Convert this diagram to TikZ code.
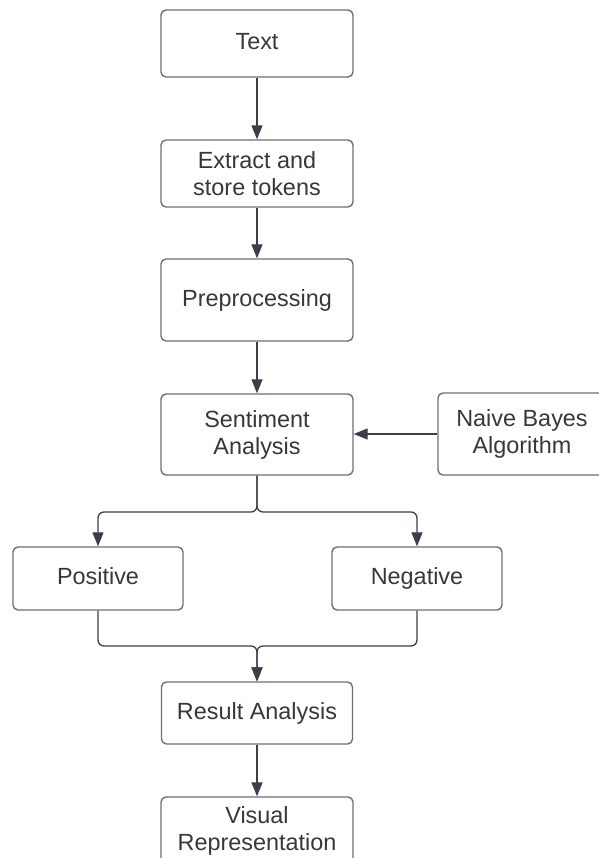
\documentclass[tikz,border=0pt]{standalone}
\usepackage{fontspec}
\setmainfont{Liberation Sans}
\usetikzlibrary{arrows.meta}
\definecolor{boxline}{HTML}{707070}
\definecolor{conn}{HTML}{3B3F4A}
\definecolor{txt}{HTML}{383838}
\begin{document}
\begin{tikzpicture}[x=1bp,y=-1bp,
  box/.style={draw=boxline,line width=1.4bp,rounded corners=5bp,fill=white,
    text=txt,align=center,inner sep=0pt,
    font=\fontsize{23.5}{27}\selectfont},
  oneline/.style={text height=17bp,text depth=5bp},
  conn/.style={draw=conn,line width=1.3bp,rounded corners=6bp,
    -{Triangle[length=14bp,width=11bp]}}]
\useasboundingbox (0,0) rectangle (599,858);
\clip (0,0) rectangle (599,858);
\fill[white] (0,0) rectangle (599,858);
\node[box,oneline,minimum width=192bp,minimum height=67bp] (text) at (257,43.5) {Text};
\node[box,minimum width=192bp,minimum height=67bp] (extract) at (257,173.5) {Extract and\\store tokens};
\node[box,oneline,minimum width=192bp,minimum height=82bp] (prep) at (257,300) {Preprocessing};
\node[box,minimum width=192bp,minimum height=81bp] (sent) at (257,434.5) {Sentiment\\Analysis};
\node[box,minimum width=168bp,minimum height=82bp] (naive) at (522,434) {Naive Bayes\\Algorithm};
\node[box,oneline,minimum width=170bp,minimum height=63bp] (pos) at (98,578.5) {Positive};
\node[box,oneline,minimum width=170bp,minimum height=63bp] (neg) at (417,578.5) {Negative};
\node[box,oneline,minimum width=191bp,minimum height=62bp] (result) at (257,713) {Result Analysis};
\node[box,minimum width=192bp,minimum height=68bp] (visual) at (257,831) {Visual\\Representation};
\coordinate (split) at (257,512);
\coordinate (merge) at (257,646);
\draw[conn] (text.south) -- (extract.north);
\draw[conn] (extract.south) -- (prep.north);
\draw[conn] (prep.south) -- (sent.north);
\draw[conn] (naive.west) -- (naive.west -| sent.east);
\draw[conn] (sent.south) -- (split) -| (pos.north);
\draw[conn] (sent.south) -- (split) -| (neg.north);
\draw[conn] (pos.south) |- (merge) -- (result.north);
\draw[conn] (neg.south) |- (merge) -- (result.north);
\draw[conn] (result.south) -- (visual.north);
\end{tikzpicture}
\end{document}
